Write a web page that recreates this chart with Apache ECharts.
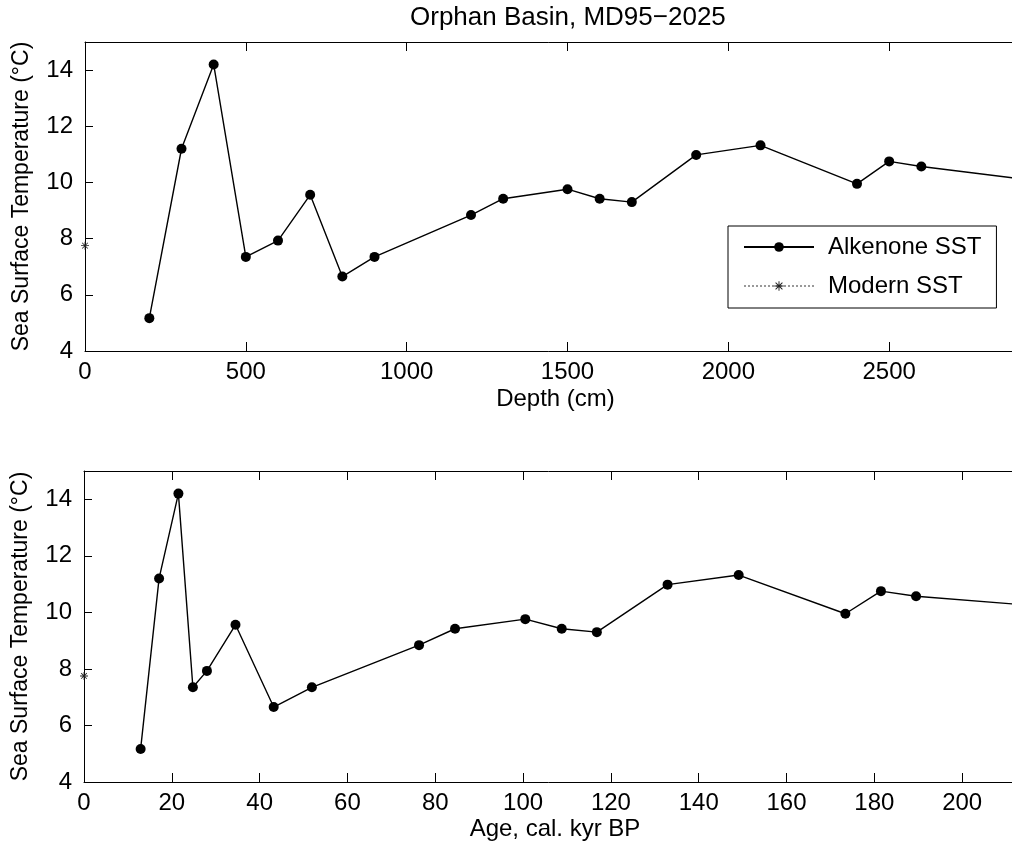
<!DOCTYPE html>
<html>
<head>
<meta charset="utf-8">
<script src="https://cdn.jsdelivr.net/npm/echarts/dist/echarts.min.js"></script>
<style>
  html, body { margin: 0; padding: 0; background: #fff; }
  #chart { width: 1012px; height: 849px; }
</style>
</head>
<body>
<div id="chart"></div>
<script>
// Core MD95-2025, Orphan Basin: alkenone-derived sea surface temperature
const depthCm = [200, 300, 400, 500, 600, 700, 800, 900, 1200, 1300, 1500, 1600, 1700, 1900, 2100, 2400, 2500, 2600, 2950];
const ageKyr  = [12.9, 17.1, 21.5, 24.8, 28.0, 34.5, 43.2, 51.9, 76.3, 84.5, 100.5, 108.8, 116.8, 132.9, 149.1, 173.4, 181.5, 189.5, 230];
const sstC    = [5.17, 11.2, 14.2, 7.35, 7.93, 9.56, 6.65, 7.35, 8.84, 9.42, 9.76, 9.42, 9.30, 10.98, 11.32, 9.95, 10.75, 10.57, 10.07];

// Modern SST reference value at the core top
const modernDepth = [0];
const modernAge = [0];
const modernSst = [7.75];

const seriesNames = ['Alkenone SST', 'Modern SST'];
const titleText = 'Orphan Basin, MD95\u22122025';
const yName = 'Sea Surface Temperature (\u00B0C)';
const depthName = 'Depth (cm)';
const ageName = 'Age, cal. kyr BP';

const FONT = '"Liberation Sans", Arial, Helvetica, sans-serif';

// asterisk marker built from four crossing bars
const ASTERISK = 'path://M0,9L20,9L20,11L0,11Z M9,0L11,0L11,20L9,20Z M2.2,3.6L3.6,2.2L17.8,16.4L16.4,17.8Z M16.4,2.2L17.8,3.6L3.6,17.8L2.2,16.4Z';

function pairs(xs, ys) { return xs.map((x, i) => [x, ys[i]]); }
const plain = v => String(v);

const lineCommon = { color: '#000', width: 1 };

function xAxisPair(gridIndex, max, interval, name, nameGap) {
  const base = {
    type: 'value', gridIndex, min: 0, max, interval,
    axisLine: { show: true, onZero: false, lineStyle: lineCommon },
    axisTick: { show: true, inside: true, length: 9, lineStyle: lineCommon },
    splitLine: { show: false }
  };
  return [
    Object.assign({}, base, {
      position: 'bottom',
      name, nameLocation: 'middle', nameGap,
      nameTextStyle: { fontSize: 24, color: '#000', fontFamily: FONT, padding: [0, 24, 0, 0] },
      axisLabel: { color: '#000', fontSize: 24, margin: 9, fontFamily: FONT, formatter: plain }
    }),
    Object.assign({}, base, { position: 'top', axisLabel: { show: false } })
  ];
}

function yAxisPair(gridIndex) {
  const base = {
    type: 'value', gridIndex, min: 4, max: 15, interval: 2,
    axisLine: { show: true, onZero: false, lineStyle: lineCommon },
    axisTick: { show: true, inside: true, length: 8, lineStyle: lineCommon },
    splitLine: { show: false }
  };
  return [
    Object.assign({}, base, {
      position: 'left',
      name: yName, nameLocation: 'middle', nameGap: 52,
      nameTextStyle: { fontSize: 23, color: '#000', fontFamily: FONT },
      axisLabel: { color: '#000', fontSize: 24, margin: 12, fontFamily: FONT, showMaxLabel: false, formatter: plain }
    }),
    Object.assign({}, base, { position: 'right', axisLabel: { show: false } })
  ];
}

function sstSeries(xIdx, yIdx, xs) {
  return {
    name: seriesNames[0], type: 'line', xAxisIndex: xIdx, yAxisIndex: yIdx,
    data: pairs(xs, sstC), symbol: 'circle', symbolSize: 10, clip: true,
    itemStyle: { color: '#000' }, lineStyle: { color: '#000', width: 1.4 },
    animation: false, z: 3
  };
}

function modernSeries(xIdx, yIdx, xs) {
  return {
    name: seriesNames[1], type: 'line', xAxisIndex: xIdx, yAxisIndex: yIdx,
    data: pairs(xs, modernSst), symbol: ASTERISK, symbolSize: 8, clip: false,
    itemStyle: { color: '#222' }, lineStyle: { color: '#999', width: 1, type: 'dotted' },
    animation: false, z: 4
  };
}

const chart = echarts.init(document.getElementById('chart'), null, { renderer: 'canvas' });

chart.setOption({
  backgroundColor: '#fff',
  animation: false,
  title: {
    text: titleText, left: 410, top: 5, padding: 0,
    textStyle: { fontSize: 26, fontWeight: 'normal', color: '#000', fontFamily: FONT }
  },
  grid: [
    { left: 85, top: 42, right: -38, height: 309, containLabel: false, outerBoundsMode: 'none' },
    { left: 84, top: 471, right: -38, height: 311, containLabel: false, outerBoundsMode: 'none' }
  ],
  xAxis: [].concat(
    xAxisPair(0, 3000, 500, depthName, 36),
    xAxisPair(1, 220, 20, ageName, 35)
  ),
  yAxis: [].concat(yAxisPair(0), yAxisPair(1)),
  legend: {
    data: seriesNames, orient: 'vertical', left: 728, top: 226,
    padding: [8, 15, 9, 15], itemWidth: 70, itemHeight: 12, itemGap: 13,
    backgroundColor: '#fff', borderColor: '#000', borderWidth: 1, borderRadius: 0,
    selectedMode: false,
    textStyle: { fontSize: 24, color: '#000', fontFamily: FONT, lineHeight: 26, padding: [0, 0, 0, 9] }
  },
  series: [
    sstSeries(0, 0, depthCm),
    modernSeries(0, 0, modernDepth),
    sstSeries(2, 2, ageKyr),
    modernSeries(2, 2, modernAge)
  ]
});
</script>
</body>
</html>
